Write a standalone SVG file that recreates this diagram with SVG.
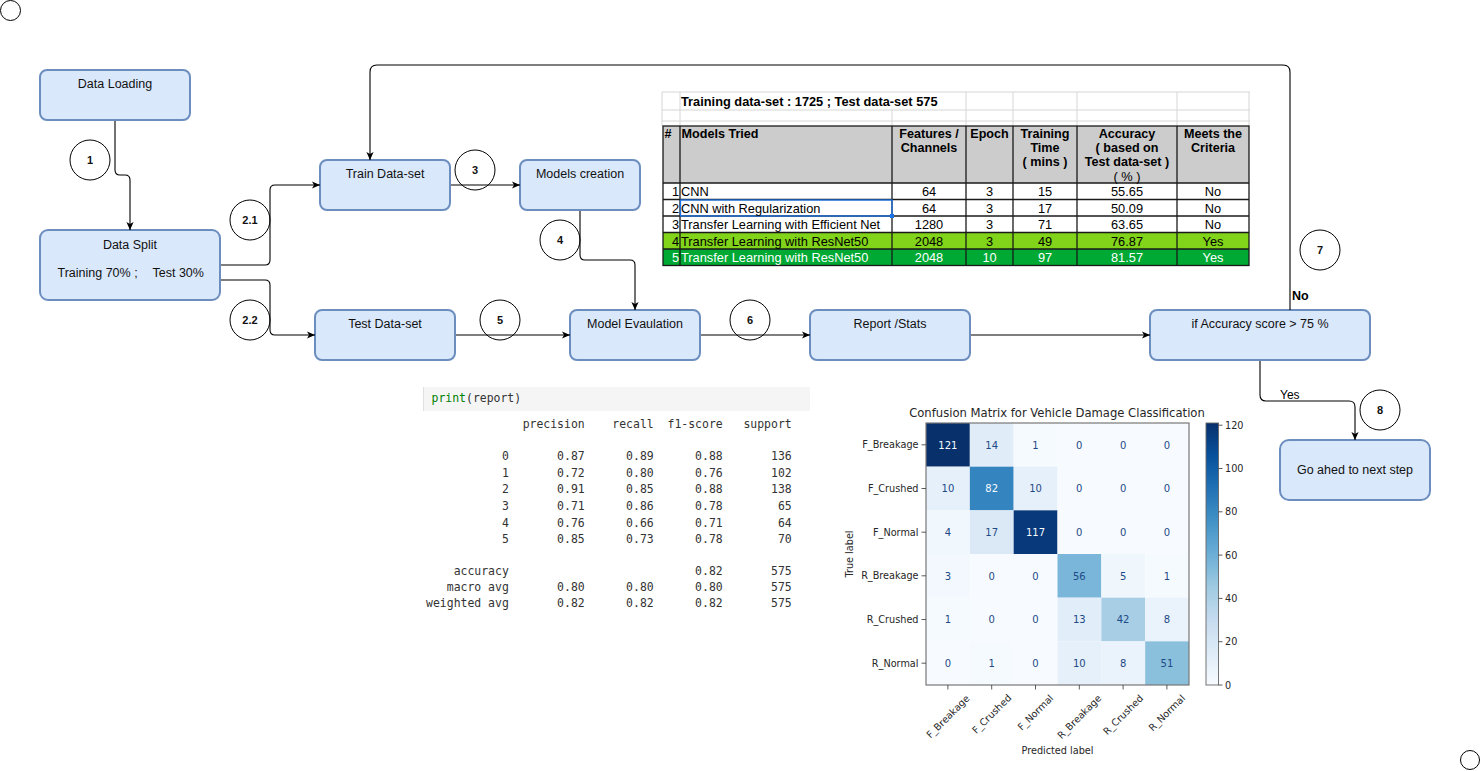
<svg xmlns="http://www.w3.org/2000/svg" width="1481" height="771" viewBox="0 0 1481 771">
<style>
.box{fill:#dae8fc;stroke:#6c8ebf;stroke-width:2}
.lbl{font-family:"Liberation Sans",Arial,sans-serif;font-size:12.5px;fill:#111;text-anchor:middle}
.circ{fill:#fff;stroke:#000;stroke-width:1}
.cnum{font-family:"Liberation Sans",Arial,sans-serif;font-size:11px;font-weight:bold;fill:#111;text-anchor:middle}
.conn{fill:none;stroke:#000;stroke-width:1.1}
.tb{font-family:"Liberation Sans",Arial,sans-serif;font-size:12.6px;font-weight:bold;fill:#000}
.tr{font-family:"Liberation Sans",Arial,sans-serif;font-size:12.8px;fill:#000}
.c{text-anchor:middle}
.e{text-anchor:end}
.w{fill:#fff}
.grid{stroke:#d6d6d6;stroke-width:1;fill:none}
.bd{stroke:#1a1a1a;stroke-width:1.3;fill:none}
.mono{font-family:"DejaVu Sans Mono","Liberation Mono",monospace;font-size:11.46px;fill:#333}
.mpl{font-family:"DejaVu Sans",sans-serif;font-size:9.7px;fill:#262626}
.cv{font-family:"DejaVu Sans",sans-serif;font-size:10px;fill:#1d4a87;text-anchor:middle}
.cw{fill:#f7fbff}
.tk{stroke:#333;stroke-width:0.8}
</style>
<defs>
<marker id="arr" viewBox="0 0 10 10" refX="10" refY="5" markerWidth="8" markerHeight="8" markerUnits="userSpaceOnUse" orient="auto">
<path d="M0,0.5 L10,5 L0,9.5 L2.5,5 z" fill="#000"/>
</marker>
<linearGradient id="blues" x1="0" y1="1" x2="0" y2="0">
<stop offset="0" stop-color="#f7fbff"/>
<stop offset="0.125" stop-color="#deebf7"/>
<stop offset="0.25" stop-color="#c6dbef"/>
<stop offset="0.375" stop-color="#9ecae1"/>
<stop offset="0.5" stop-color="#6baed6"/>
<stop offset="0.625" stop-color="#4292c6"/>
<stop offset="0.75" stop-color="#2171b5"/>
<stop offset="0.875" stop-color="#08519c"/>
<stop offset="1" stop-color="#08306b"/>
</linearGradient>
</defs>
<rect x="0" y="0" width="1481" height="771" fill="#fff"/>

<!-- corner markers -->
<circle cx="10.5" cy="10.5" r="10" fill="none" stroke="#000" stroke-width="1"/>
<circle cx="1470" cy="760" r="9.5" fill="none" stroke="#000" stroke-width="1"/>

<!-- results table -->
<g id="table">
<g class="grid">
<line x1="662" y1="92" x2="1250" y2="92"/>
<line x1="662" y1="110" x2="1250" y2="110"/>
<line x1="662" y1="121" x2="1250" y2="121"/>
<line x1="662" y1="92" x2="662" y2="126"/>
<line x1="680" y1="92" x2="680" y2="126"/>
<line x1="892" y1="110" x2="892" y2="126"/>
<line x1="966" y1="92" x2="966" y2="126"/>
<line x1="1013" y1="92" x2="1013" y2="126"/>
<line x1="1077" y1="92" x2="1077" y2="126"/>
<line x1="1177" y1="92" x2="1177" y2="126"/>
<line x1="1249" y1="92" x2="1249" y2="126"/>
</g>
<text class="tb" x="681" y="105.5" style="font-size:12.8px">Training data-set : 1725 ; Test data-set 575</text>
<rect x="663" y="126" width="586" height="57" fill="#cccccc"/>
<rect x="663" y="183" width="586" height="49.5" fill="#fff"/>
<rect x="663" y="232.5" width="586" height="16.5" fill="#81d41a"/>
<rect x="663" y="249" width="586" height="16.5" fill="#00a933"/>
<g class="bd">
<rect x="663" y="126" width="586" height="139.5"/>
<line x1="663" y1="183" x2="1249" y2="183"/>
<line x1="663" y1="199.5" x2="1249" y2="199.5"/>
<line x1="663" y1="216" x2="1249" y2="216"/>
<line x1="663" y1="232.5" x2="1249" y2="232.5"/>
<line x1="663" y1="249" x2="1249" y2="249"/>
<line x1="680" y1="126" x2="680" y2="265.5"/>
<line x1="892" y1="126" x2="892" y2="265.5"/>
<line x1="966" y1="126" x2="966" y2="265.5"/>
<line x1="1013" y1="126" x2="1013" y2="265.5"/>
<line x1="1077" y1="126" x2="1077" y2="265.5"/>
<line x1="1177" y1="126" x2="1177" y2="265.5"/>
</g>
<rect x="680.5" y="200" width="211.5" height="16" fill="none" stroke="#1a73e8" stroke-width="1.3"/>
<rect x="890" y="214" width="4" height="4" fill="#1a73e8"/>
<text class="tb" x="664.5" y="138">#</text>
<text class="tb" x="681.5" y="138">Models Tried</text>
<text class="tb c" x="929" y="138">Features /</text>
<text class="tb c" x="929" y="152">Channels</text>
<text class="tb c" x="989.5" y="138">Epoch</text>
<text class="tb c" x="1045" y="138">Training</text>
<text class="tb c" x="1045" y="152">Time</text>
<text class="tb c" x="1045" y="166">( mins )</text>
<text class="tb c" x="1127" y="138">Accuracy</text>
<text class="tb c" x="1127" y="152">( based on</text>
<text class="tb c" x="1127" y="166">Test data-set )</text>
<text class="tr c" x="1127" y="180.5">( % )</text>
<text class="tb c" x="1213" y="138">Meets the</text>
<text class="tb c" x="1213" y="152">Criteria</text>

<text class="tr e" x="679" y="196">1</text><text class="tr" x="681" y="196">CNN</text>
<text class="tr c" x="929" y="196">64</text><text class="tr c" x="989.5" y="196">3</text><text class="tr c" x="1045" y="196">15</text><text class="tr c" x="1127" y="196">55.65</text><text class="tr c" x="1213" y="196">No</text>
<text class="tr e" x="679" y="212.5">2</text><text class="tr" x="681" y="212.5">CNN with Regularization</text>
<text class="tr c" x="929" y="212.5">64</text><text class="tr c" x="989.5" y="212.5">3</text><text class="tr c" x="1045" y="212.5">17</text><text class="tr c" x="1127" y="212.5">50.09</text><text class="tr c" x="1213" y="212.5">No</text>
<text class="tr e" x="679" y="229">3</text><text class="tr" x="681" y="229">Transfer Learning with Efficient Net</text>
<text class="tr c" x="929" y="229">1280</text><text class="tr c" x="989.5" y="229">3</text><text class="tr c" x="1045" y="229">71</text><text class="tr c" x="1127" y="229">63.65</text><text class="tr c" x="1213" y="229">No</text>
<text class="tr e" x="679" y="245.5">4</text><text class="tr" x="681" y="245.5">Transfer Learning with ResNet50</text>
<text class="tr c" x="929" y="245.5">2048</text><text class="tr c" x="989.5" y="245.5">3</text><text class="tr c" x="1045" y="245.5">49</text><text class="tr c" x="1127" y="245.5">76.87</text><text class="tr c" x="1213" y="245.5">Yes</text>
<text class="tr e w" x="679" y="262">5</text><text class="tr w" x="681" y="262">Transfer Learning with ResNet50</text>
<text class="tr c w" x="929" y="262">2048</text><text class="tr c w" x="989.5" y="262">10</text><text class="tr c w" x="1045" y="262">97</text><text class="tr c w" x="1127" y="262">81.57</text><text class="tr c w" x="1213" y="262">Yes</text>
</g>

<!-- classification report -->
<g id="report">
<rect x="423" y="387" width="387" height="24" fill="#f5f5f5"/>
<line x1="423.5" y1="387" x2="423.5" y2="411" stroke="#e0e0e0" stroke-width="1"/>
<text class="mono" x="431.5" y="402"><tspan fill="#008000">print</tspan>(report)</text>
<g class="mono" text-anchor="end">
<text x="584.7" y="427.5">precision</text><text x="653.7" y="427.5">recall</text><text x="722.7" y="427.5">f1-score</text><text x="791.7" y="427.5">support</text>
<text x="508.8" y="460">0</text><text x="584.7" y="460">0.87</text><text x="653.7" y="460">0.89</text><text x="722.7" y="460">0.88</text><text x="791.7" y="460">136</text>
<text x="508.8" y="476.6">1</text><text x="584.7" y="476.6">0.72</text><text x="653.7" y="476.6">0.80</text><text x="722.7" y="476.6">0.76</text><text x="791.7" y="476.6">102</text>
<text x="508.8" y="493.3">2</text><text x="584.7" y="493.3">0.91</text><text x="653.7" y="493.3">0.85</text><text x="722.7" y="493.3">0.88</text><text x="791.7" y="493.3">138</text>
<text x="508.8" y="510">3</text><text x="584.7" y="510">0.71</text><text x="653.7" y="510">0.86</text><text x="722.7" y="510">0.78</text><text x="791.7" y="510">65</text>
<text x="508.8" y="526.6">4</text><text x="584.7" y="526.6">0.76</text><text x="653.7" y="526.6">0.66</text><text x="722.7" y="526.6">0.71</text><text x="791.7" y="526.6">64</text>
<text x="508.8" y="543.3">5</text><text x="584.7" y="543.3">0.85</text><text x="653.7" y="543.3">0.73</text><text x="722.7" y="543.3">0.78</text><text x="791.7" y="543.3">70</text>
<text x="508.8" y="575">accuracy</text><text x="722.7" y="575">0.82</text><text x="791.7" y="575">575</text>
<text x="508.8" y="591">macro avg</text><text x="584.7" y="591">0.80</text><text x="653.7" y="591">0.80</text><text x="722.7" y="591">0.80</text><text x="791.7" y="591">575</text>
<text x="508.8" y="607">weighted avg</text><text x="584.7" y="607">0.82</text><text x="653.7" y="607">0.82</text><text x="722.7" y="607">0.82</text><text x="791.7" y="607">575</text>
</g>
</g>

<!-- confusion matrix -->
<g id="confusion-matrix">
<text class="mpl" x="1057" y="416.5" text-anchor="middle" style="font-size:11.6px">Confusion Matrix for Vehicle Damage Classification</text>
<g>
<rect x="926" y="423" width="43.83" height="43.67" fill="#08306b"/>
<rect x="969.83" y="423" width="43.83" height="43.67" fill="#e0ecf8"/>
<rect x="1013.67" y="423" width="43.83" height="43.67" fill="#f5fafe"/>
<rect x="1057.5" y="423" width="131.5" height="43.67" class="cw"/>
<rect x="926" y="466.67" width="43.83" height="43.67" fill="#e6f0fa"/>
<rect x="969.83" y="466.67" width="43.83" height="43.67" fill="#3484bf"/>
<rect x="1013.67" y="466.67" width="43.83" height="43.67" fill="#e6f0fa"/>
<rect x="1057.5" y="466.67" width="131.5" height="43.67" class="cw"/>
<rect x="926" y="510.33" width="43.83" height="43.67" fill="#f0f7fd"/>
<rect x="969.83" y="510.33" width="43.83" height="43.67" fill="#dbe9f6"/>
<rect x="1013.67" y="510.33" width="43.83" height="43.67" fill="#08397a"/>
<rect x="1057.5" y="510.33" width="131.5" height="43.67" class="cw"/>
<rect x="926" y="554" width="43.83" height="43.67" fill="#f2f8fd"/>
<rect x="969.83" y="554" width="87.67" height="43.67" class="cw"/>
<rect x="1057.5" y="554" width="43.83" height="43.67" fill="#7ab6d9"/>
<rect x="1101.33" y="554" width="43.83" height="43.67" fill="#eff6fc"/>
<rect x="1145.17" y="554" width="43.83" height="43.67" fill="#f5fafe"/>
<rect x="926" y="597.67" width="43.83" height="43.67" fill="#f5fafe"/>
<rect x="969.83" y="597.67" width="87.67" height="43.67" class="cw"/>
<rect x="1057.5" y="597.67" width="43.83" height="43.67" fill="#e1edf8"/>
<rect x="1101.33" y="597.67" width="43.83" height="43.67" fill="#a7cee4"/>
<rect x="1145.17" y="597.67" width="43.83" height="43.67" fill="#eaf2fb"/>
<rect x="926" y="641.33" width="43.83" height="43.67" class="cw"/>
<rect x="969.83" y="641.33" width="43.83" height="43.67" fill="#f5fafe"/>
<rect x="1013.67" y="641.33" width="43.83" height="43.67" class="cw"/>
<rect x="1057.5" y="641.33" width="43.83" height="43.67" fill="#e6f0fa"/>
<rect x="1101.33" y="641.33" width="43.83" height="43.67" fill="#eaf2fb"/>
<rect x="1145.17" y="641.33" width="43.83" height="43.67" fill="#8bc0dd"/>
</g>
<rect x="926" y="423" width="263" height="262" fill="none" stroke="#777" stroke-width="1.2"/>
<g class="cv">
<text x="947.9" y="448.5" fill="#f7fbff">121</text><text x="991.7" y="448.5">14</text><text x="1035.5" y="448.5">1</text><text x="1079.3" y="448.5">0</text><text x="1123.1" y="448.5">0</text><text x="1166.9" y="448.5">0</text>
<text x="947.9" y="492.2">10</text><text x="991.7" y="492.2" fill="#f7fbff">82</text><text x="1035.5" y="492.2">10</text><text x="1079.3" y="492.2">0</text><text x="1123.1" y="492.2">0</text><text x="1166.9" y="492.2">0</text>
<text x="947.9" y="535.9">4</text><text x="991.7" y="535.9">17</text><text x="1035.5" y="535.9" fill="#f7fbff">117</text><text x="1079.3" y="535.9">0</text><text x="1123.1" y="535.9">0</text><text x="1166.9" y="535.9">0</text>
<text x="947.9" y="579.6">3</text><text x="991.7" y="579.6">0</text><text x="1035.5" y="579.6">0</text><text x="1079.3" y="579.6">56</text><text x="1123.1" y="579.6">5</text><text x="1166.9" y="579.6">1</text>
<text x="947.9" y="623.3">1</text><text x="991.7" y="623.3">0</text><text x="1035.5" y="623.3">0</text><text x="1079.3" y="623.3">13</text><text x="1123.1" y="623.3">42</text><text x="1166.9" y="623.3">8</text>
<text x="947.9" y="667">0</text><text x="991.7" y="667">1</text><text x="1035.5" y="667">0</text><text x="1079.3" y="667">10</text><text x="1123.1" y="667">8</text><text x="1166.9" y="667">51</text>
</g>
<g class="tk">
<line x1="921.5" y1="444.8" x2="926" y2="444.8"/><line x1="921.5" y1="488.5" x2="926" y2="488.5"/><line x1="921.5" y1="532.2" x2="926" y2="532.2"/>
<line x1="921.5" y1="575.8" x2="926" y2="575.8"/><line x1="921.5" y1="619.5" x2="926" y2="619.5"/><line x1="921.5" y1="663.2" x2="926" y2="663.2"/>
<line x1="947.9" y1="685" x2="947.9" y2="689.5"/><line x1="991.7" y1="685" x2="991.7" y2="689.5"/><line x1="1035.5" y1="685" x2="1035.5" y2="689.5"/>
<line x1="1079.3" y1="685" x2="1079.3" y2="689.5"/><line x1="1123.1" y1="685" x2="1123.1" y2="689.5"/><line x1="1166.9" y1="685" x2="1166.9" y2="689.5"/>
</g>
<g class="mpl" text-anchor="end">
<text x="918.5" y="448.3">F_Breakage</text><text x="918.5" y="492">F_Crushed</text><text x="918.5" y="535.7">F_Normal</text>
<text x="918.5" y="579.4">R_Breakage</text><text x="918.5" y="623.1">R_Crushed</text><text x="918.5" y="666.8">R_Normal</text>
</g>
<g class="mpl" text-anchor="middle">
<text x="947.9" y="719.9" transform="rotate(-45 947.9 716.5)">F_Breakage</text>
<text x="991.7" y="717.4" transform="rotate(-45 991.7 714)">F_Crushed</text>
<text x="1035.5" y="715.8" transform="rotate(-45 1035.5 712.4)">F_Normal</text>
<text x="1079.3" y="720.1" transform="rotate(-45 1079.3 716.7)">R_Breakage</text>
<text x="1123.1" y="718.1" transform="rotate(-45 1123.1 714.7)">R_Crushed</text>
<text x="1166.9" y="716.3" transform="rotate(-45 1166.9 712.9)">R_Normal</text>
<text x="1057.5" y="753.5">Predicted label</text>
<text x="853" y="554" transform="rotate(-90 853 554)">True label</text>
</g>
<rect x="1206" y="423" width="12.5" height="262" fill="url(#blues)" stroke="#666" stroke-width="0.9"/>
<g class="tk">
<line x1="1218.5" y1="685" x2="1222.5" y2="685"/><line x1="1218.5" y1="641.7" x2="1222.5" y2="641.7"/><line x1="1218.5" y1="598.4" x2="1222.5" y2="598.4"/>
<line x1="1218.5" y1="555.1" x2="1222.5" y2="555.1"/><line x1="1218.5" y1="511.8" x2="1222.5" y2="511.8"/><line x1="1218.5" y1="468.5" x2="1222.5" y2="468.5"/><line x1="1218.5" y1="425.2" x2="1222.5" y2="425.2"/>
</g>
<g class="mpl">
<text x="1225" y="688.5">0</text><text x="1225" y="645.2">20</text><text x="1225" y="601.9">40</text><text x="1225" y="558.6">60</text>
<text x="1225" y="515.3">80</text><text x="1225" y="472">100</text><text x="1225" y="428.7">120</text>
</g>
</g>

<!-- flow nodes -->
<g id="n-data-loading"><rect class="box" x="40" y="70" width="150" height="50" rx="7"/><text class="lbl" x="115" y="88">Data Loading</text></g>
<g id="n-data-split"><rect class="box" x="40" y="230" width="180" height="70" rx="8"/><text class="lbl" x="130" y="248.5">Data Split</text>
<text class="lbl" x="57.5" y="277" style="text-anchor:start">Training 70% ;</text><text class="lbl" x="152.5" y="277" style="text-anchor:start">Test 30%</text></g>
<g id="n-train"><rect class="box" x="320" y="160" width="130" height="50" rx="7"/><text class="lbl" x="385" y="178">Train Data-set</text></g>
<g id="n-models-creation"><rect class="box" x="520" y="160" width="120" height="50" rx="7"/><text class="lbl" x="580" y="178">Models creation</text></g>
<g id="n-test"><rect class="box" x="315" y="310" width="140" height="50" rx="7"/><text class="lbl" x="385" y="328">Test Data-set</text></g>
<g id="n-model-eval"><rect class="box" x="570" y="310" width="130" height="50" rx="7"/><text class="lbl" x="635" y="328">Model Evaulation</text></g>
<g id="n-report"><rect class="box" x="810" y="310" width="160" height="50" rx="7"/><text class="lbl" x="890" y="328">Report /Stats</text></g>
<g id="n-if"><rect class="box" x="1150" y="310" width="220" height="50" rx="7"/><text class="lbl" x="1260" y="328">if Accuracy score &gt; 75 %</text></g>
<g id="n-next"><rect class="box" x="1280" y="440" width="150" height="60" rx="9"/><text class="lbl" x="1355" y="474">Go ahed to next step</text></g>

<!-- step numbers -->
<g id="step-1"><circle class="circ" cx="90" cy="160" r="20"/><text class="cnum" x="90" y="164">1</text></g>
<g id="step-2-1"><circle class="circ" cx="250" cy="220" r="20"/><text class="cnum" x="250" y="224">2.1</text></g>
<g id="step-2-2"><circle class="circ" cx="250" cy="320" r="20"/><text class="cnum" x="250" y="324">2.2</text></g>
<g id="step-3"><circle class="circ" cx="475" cy="170" r="20"/><text class="cnum" x="475" y="174">3</text></g>
<g id="step-4"><circle class="circ" cx="560" cy="240" r="20"/><text class="cnum" x="560" y="244">4</text></g>
<g id="step-5"><circle class="circ" cx="500" cy="320" r="20"/><text class="cnum" x="500" y="324">5</text></g>
<g id="step-6"><circle class="circ" cx="750" cy="320" r="20"/><text class="cnum" x="750" y="324">6</text></g>
<g id="step-7"><circle class="circ" cx="1320" cy="250" r="20"/><text class="cnum" x="1320" y="254">7</text></g>
<g id="step-8"><circle class="circ" cx="1380" cy="410" r="20"/><text class="cnum" x="1380" y="414">8</text></g>

<!-- connectors -->
<g id="connectors" class="conn">
<path d="M115,121 V170 Q115,175 120,175 H125 Q130,175 130,180 V230" marker-end="url(#arr)"/>
<path d="M221,265 H265 Q270,265 270,260 V190 Q270,185 275,185 H320" marker-end="url(#arr)"/>
<path d="M221,280 H265 Q270,280 270,285 V330 Q270,335 275,335 H315" marker-end="url(#arr)"/>
<path d="M451,185 H520" marker-end="url(#arr)"/>
<path d="M580,211 V255 Q580,260 585,260 H630 Q635,260 635,265 V310" marker-end="url(#arr)"/>
<path d="M456,335 H570" marker-end="url(#arr)"/>
<path d="M701,335 H810" marker-end="url(#arr)"/>
<path d="M971,335 H1150" marker-end="url(#arr)"/>
<path d="M1290,310 V72 Q1290,65 1283,65 H377 Q370,65 370,72 V160" marker-end="url(#arr)"/>
<path d="M1260,361 V395 Q1260,401 1266,401 H1349 Q1355,401 1355,407 V440" marker-end="url(#arr)"/>
<text x="1292" y="300" style="font-family:'Liberation Sans',Arial,sans-serif;font-size:12.5px;font-weight:bold;fill:#000;stroke:none">No</text>
<text x="1280" y="398.5" style="font-family:'Liberation Sans',Arial,sans-serif;font-size:12px;fill:#000;stroke:none">Yes</text>
</g>
</svg>
